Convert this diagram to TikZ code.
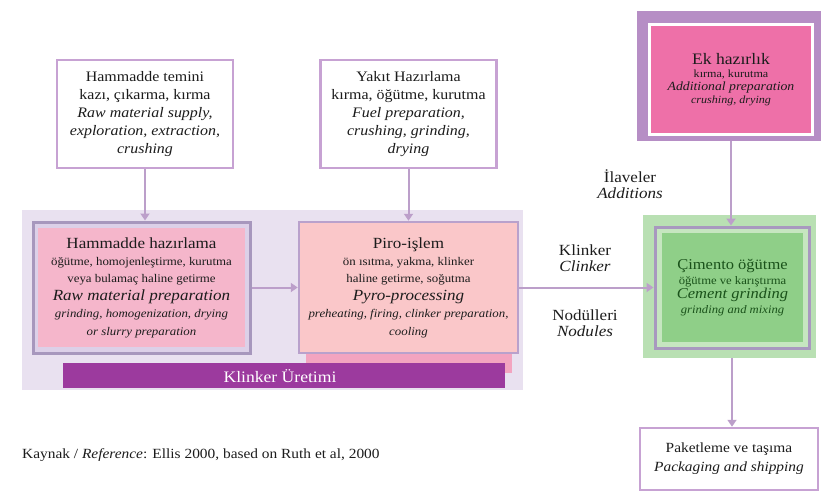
\documentclass[tikz,border=0pt]{standalone}
\usepackage{fontspec}
\setmainfont{Liberation Serif}[FakeStretch=1.1]
\usetikzlibrary{arrows.meta}
\definecolor{cTop}{HTML}{C7A2D3}
\definecolor{cArrow}{HTML}{BC9FCA}
\definecolor{cLav}{HTML}{E9E1F0}
\definecolor{cPrepBorder}{HTML}{A797BD}
\definecolor{cPrepGap}{HTML}{DCD0E8}
\definecolor{cPink}{HTML}{F5B6CB}
\definecolor{cPyroBorder}{HTML}{B9A1CC}
\definecolor{cPyro}{HTML}{FAC7C9}
\definecolor{cStrip}{HTML}{F3A4C0}
\definecolor{cBar}{HTML}{9C3A9E}
\definecolor{cEkFrame}{HTML}{B68EC5}
\definecolor{cEkPink}{HTML}{EE70A8}
\definecolor{cGOuter}{HTML}{B9E0B3}
\definecolor{cGFrame}{HTML}{A898BF}
\definecolor{cGGap}{HTML}{C6E6C0}
\definecolor{cGreen}{HTML}{8FCF88}
\definecolor{cGText}{HTML}{1A521A}
\definecolor{cText}{HTML}{1C1C1C}
\newcommand\fs[2]{\fontsize{#1}{#2}\selectfont}
\begin{document}
\begin{tikzpicture}[x=1pt,y=-1pt,
  every node/.style={inner sep=0pt, align=center, text=cText},
  topbox/.style={draw=cTop, line width=2.5pt, fill=white, minimum width=176pt, minimum height=108pt, font=\fs{14.5}{17.8}},
  arr/.style={draw=cArrow, line width=2pt, -{Triangle[length=7pt,width=9pt]}},
  lbl/.style={font=\fs{15.5}{16}}
]
\useasboundingbox (0,0) rectangle (821,493);

% klinker production background
\node[fill=cLav, minimum width=501pt, minimum height=180pt] (klinkerbg) at (272.5,300) {};
% pink strip under pyro box
\node[fill=cStrip, minimum width=206pt, minimum height=24pt] (strip) at (409,361) {};
% bar
\node[fill=cBar, minimum width=442pt, minimum height=25pt] (bar) at (284,375) {};
\node[text=white, font=\fs{16}{16}] (bartext) at (280,376) {Klinker Üretimi};

% top boxes
\node[topbox] (raw) at (145,114) {Hammadde temini\\kazı, çıkarma, kırma\\\textit{Raw material supply,}\\\textit{exploration, extraction,}\\\textit{crushing}};
\node[topbox] (fuel) at (408.5,114) {Yakıt Hazırlama\\kırma, öğütme, kurutma\\\textit{Fuel preparation,}\\\textit{crushing, grinding,}\\\textit{drying}};

% raw material preparation
\node[draw=cPrepBorder, line width=3pt, fill=cPrepGap, minimum width=217pt, minimum height=131pt] (prepframe) at (141.5,287.5) {};
\node[fill=cPink, minimum width=207pt, minimum height=119pt, font=\fs{11.7}{17.4}] (prep) at (141.5,287.5)
 {{\fs{15.5}{17.4}Hammadde hazırlama}\\öğütme, homojenleştirme, kurutma\\veya bulamaç haline getirme\\{\fs{15.5}{19}\itshape Raw material preparation}\\\textit{grinding, homogenization, drying}\\\textit{or slurry preparation}};

% pyro-processing
\node[draw=cPyroBorder, line width=2.5pt, fill=cPyro, minimum width=219pt, minimum height=131pt, font=\fs{11.7}{17.4}] (pyro) at (408.5,287.5)
 {{\fs{15.5}{17.4}Piro-işlem}\\ön ısıtma, yakma, klinker\\haline getirme, soğutma\\{\fs{15.5}{19}\itshape Pyro-processing}\\\textit{preheating, firing, clinker preparation,}\\\textit{cooling}};

% additional preparation
\node[fill=cEkFrame, minimum width=184pt, minimum height=130pt] (ekframe) at (729,76) {};
\node[draw=white, line width=3pt, fill=cEkPink, minimum width=163pt, minimum height=110pt, font=\fs{11}{13}] (ek) at (731,79.5)
 {{\fs{16}{13}Ek hazırlık}\\kırma, kurutma\\{\fs{12.5}{14}\itshape Additional preparation}\\\textit{crushing, drying}};

% cement grinding
\node[fill=cGOuter, minimum width=173pt, minimum height=143pt] (gouter) at (729.5,286.5) {};
\node[draw=cGFrame, line width=3pt, fill=cGGap, minimum width=154pt, minimum height=121pt] (gframe) at (732,287.5) {};
\node[fill=cGreen, minimum width=141pt, minimum height=109pt, text=cGText, font=\fs{11.5}{14.5}] (cement) at (732.5,287.5)
 {{\fs{15}{14.5}Çimento öğütme}\\öğütme ve karıştırma\\{\fs{15}{16}\itshape Cement grinding}\\\textit{grinding and mixing}};

% packaging
\node[draw=cTop, line width=2.5pt, fill=white, minimum width=178pt, minimum height=62pt, font=\fs{14}{19}] (pack) at (729,459)
 {Paketleme ve taşıma\\\textit{Packaging and shipping}};

% labels
\node[lbl] (additions) at (630,184) {İlaveler\\\textit{Additions}};
\node[lbl] (clinker) at (585,258) {Klinker\\\textit{Clinker}};
\node[lbl] (nodules) at (585,323) {Nodülleri\\\textit{Nodules}};

\node[anchor=west, font=\fs{14}{15}] (ref) at (22,455) {Kaynak / \textit{Reference}: Ellis 2000, based on Ruth et al, 2000};

% connectors
\draw[arr] (raw.south) -- (raw.south |- prepframe.north);
\draw[arr] (fuel.south) -- (fuel.south |- pyro.north);
\draw[arr] (prepframe.east) -- (pyro.west);
\draw[arr] (pyro.east) -- (pyro.east -| gframe.west);
\draw[arr] (ek.south |- ekframe.south) -- (ek.south |- gframe.north);
\draw[arr] (gframe.south |- gouter.south) -- (gframe.south |- pack.north);
\end{tikzpicture}
\end{document}
